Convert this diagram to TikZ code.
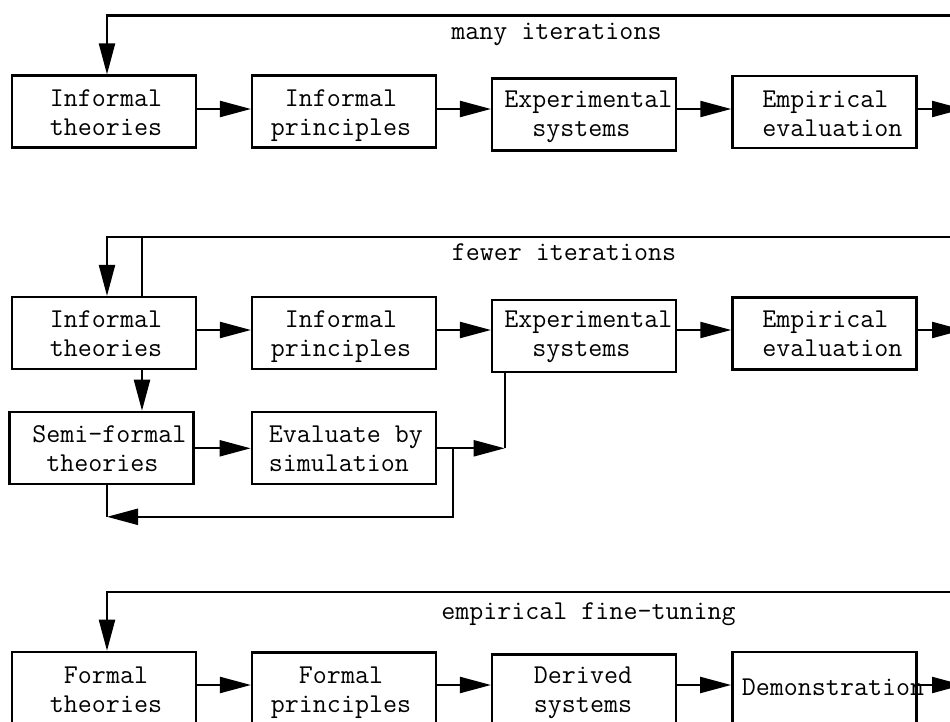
\documentclass[tikz,border=0pt]{standalone}
\usetikzlibrary{arrows.meta}
\begin{document}
\begin{tikzpicture}[x=0.5pt,y=-0.5pt,
  box/.style={draw, line width=1.25pt, minimum width=92pt, minimum height=36pt, inner sep=0pt},
  txt/.style={font=\ttfamily\fontsize{13.6pt}{14.5pt}\selectfont, inner sep=0pt, align=center},
  ln/.style={line width=1.1pt},
  arr/.style={line width=1.1pt, -{Triangle[length=15.5pt,width=8pt]}}]
\useasboundingbox (0,0) rectangle (950,722);
\clip (0,0) rectangle (950,722);
% ---------- row 1 ----------
\node[box] (it1) at (104,111.7) {};
\node[box] (ip1) at (344.2,111.7) {};
\node[box] (es1) at (584.2,114.5) {};
\node[box] (ee1) at (824.5,111.8) {};
\node[txt] (it1t) at (106,115.7) {\strut Informal\\\strut theories};
\node[txt] (ip1t) at (341,115.7) {\strut Informal\\\strut principles};
\node[txt, align=left, anchor=west] (es1t) at (504,115.9) {\strut Experimental\\\strut\phantom{xx}systems};
\node[txt, align=left, anchor=west] (ee1t) at (762,115.9) {\strut Empirical\\\strut evaluation};
\node[txt, anchor=west] (lab1) at (451,34.2) {\strut many iterations};
\coordinate (y1) at (0,109);
\coordinate (out1) at (963,109);
\coordinate (lp1) at (107,15.5);
\coordinate (lp1e) at (960,15.5);
\draw[arr] (it1.east |- y1) -- (ip1.west |- y1);
\draw[arr] (ip1.east |- y1) -- (es1.west |- y1);
\draw[arr] (es1.east |- y1) -- (ee1.west |- y1);
\draw[arr] (ee1.east |- y1) -- (out1);
\draw[arr] (lp1e) -- (lp1) -- (lp1 |- it1.north);
% ---------- row 2 ----------
\node[box] (it2) at (104,333.2) {};
\node[box] (ip2) at (344.2,333.2) {};
\node[box] (es2) at (584.2,335.8) {};
\node[box] (ee2) at (824.5,333.5) {};
\node[box] (sf) at (101.5,448) {};
\node[box] (ebs) at (343.9,448) {};
\node[txt] (it2t) at (106,336.7) {\strut Informal\\\strut theories};
\node[txt] (ip2t) at (341,336.7) {\strut Informal\\\strut principles};
\node[txt, align=left, anchor=west] (es2t) at (504,336.7) {\strut Experimental\\\strut\phantom{xx}systems};
\node[txt, align=left, anchor=west] (ee2t) at (762,336.7) {\strut Empirical\\\strut evaluation};
\node[txt, align=left, anchor=west] (sft) at (32,451.4) {\strut Semi-formal\\\strut\phantom{x}theories};
\node[txt, align=left, anchor=west] (ebst) at (268.5,451.4) {\strut Evaluate by\\\strut simulation};
\node[txt, anchor=west] (lab2) at (451.5,255.2) {\strut fewer iterations};
\coordinate (y2) at (0,330);
\coordinate (out2) at (963,330);
\coordinate (lp2) at (107,237.2);
\coordinate (lp2e) at (960,237.2);
\coordinate (lp2b) at (142,237.2);
\draw[arr] (it2.east |- y2) -- (ip2.west |- y2);
\draw[arr] (ip2.east |- y2) -- (es2.west |- y2);
\draw[arr] (es2.east |- y2) -- (ee2.west |- y2);
\draw[arr] (ee2.east |- y2) -- (out2);
\draw[arr] (lp2e) -- (lp2) -- (lp2 |- it2.north);
\draw[ln] (lp2b) -- (lp2b |- it2.north);
\draw[arr] (lp2b |- it2.south) -- (lp2b |- sf.north);
\coordinate (y3) at (0,448.3);
\coordinate (cj) at (504.7,448.3);
\coordinate (fb1) at (452.8,448.3);
\coordinate (fb2) at (452.8,516.8);
\coordinate (fb3) at (107,516.8);
\draw[arr] (sf.east |- y3) -- (ebs.west |- y3);
\draw[arr] (ebs.east |- y3) -- (cj);
\draw[ln] (cj) -- (cj |- es2.south);
\draw[arr] (fb1) -- (fb2) -- (fb3);
\draw[ln] (sf.south -| fb3) -- (fb3);
% ---------- row 3 ----------
\node[box] (ft) at (104,688) {};
\node[box] (fp) at (344.2,688.5) {};
\node[box] (ds) at (584.2,690.3) {};
\node[box] (dem) at (824.4,688) {};
\node[txt] (ftt) at (106,692.4) {\strut Formal\\\strut theories};
\node[txt] (fpt) at (341,692.4) {\strut Formal\\\strut principles};
\node[txt] (dst) at (583,692.2) {\strut Derived\\\strut systems};
\node[txt] (demt) at (833,690.2) {\strut Demonstration};
\node[txt, anchor=west] (lab3) at (441,613.2) {\strut empirical fine-tuning};
\coordinate (y4) at (0,685);
\coordinate (out3) at (963,685);
\coordinate (lp3) at (107,591.8);
\coordinate (lp3e) at (960,591.8);
\draw[arr] (ft.east |- y4) -- (fp.west |- y4);
\draw[arr] (fp.east |- y4) -- (ds.west |- y4);
\draw[arr] (ds.east |- y4) -- (dem.west |- y4);
\draw[arr] (dem.east |- y4) -- (out3);
\draw[arr] (lp3e) -- (lp3) -- (lp3 |- ft.north);
\end{tikzpicture}
\end{document}
